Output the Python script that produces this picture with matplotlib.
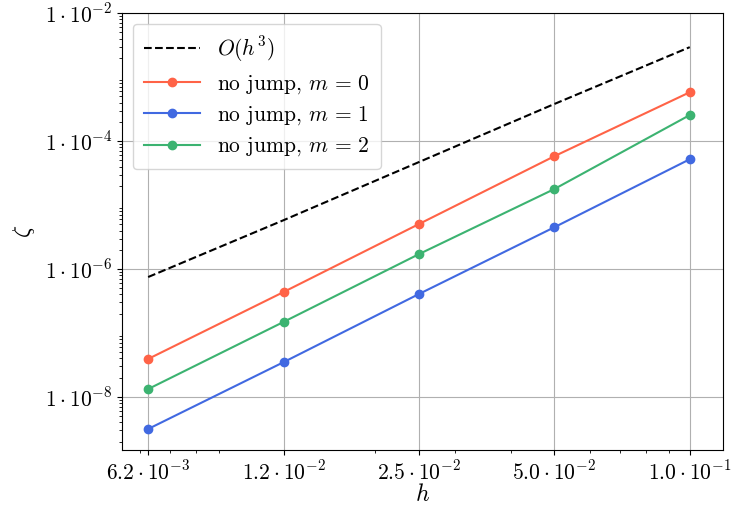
import numpy as np
import matplotlib
matplotlib.use("Agg")
import matplotlib.pyplot as plt

plt.rcParams["font.family"] = "serif"
plt.rcParams["font.serif"] = ["cmr10"]
plt.rcParams["mathtext.fontset"] = "cm"
plt.rcParams["axes.unicode_minus"] = False
plt.rcParams["axes.formatter.use_mathtext"] = True

# Schrittweiten und Fehler
h = [6.25e-3, 1.25e-2, 2.5e-2, 5e-2, 1e-1]
ref_h3 = [7.5e-7, 5.8e-6, 4.7e-5, 3.8e-4, 2.94e-3]
zeta_m0 = [3.93e-8, 4.37e-7, 5.05e-6, 5.8e-5, 5.8e-4]
zeta_m1 = [3.16e-9, 3.5e-8, 4.07e-7, 4.5e-6, 5.2e-5]
zeta_m2 = [1.33e-8, 1.49e-7, 1.71e-6, 1.78e-5, 2.55e-4]

xtick_labels = [r"$6.2\cdot10^{-3}$", r"$1.2\cdot10^{-2}$", r"$2.5\cdot10^{-2}$",
                r"$5.0\cdot10^{-2}$", r"$1.0\cdot10^{-1}$"]
yticks = [1e-8, 1e-6, 1e-4, 1e-2]
ytick_labels = [r"$1\cdot10^{-8}$", r"$1\cdot10^{-6}$", r"$1\cdot10^{-4}$", r"$1\cdot10^{-2}$"]

fig = plt.figure(figsize=(7.36, 5.05), dpi=100)
ax = fig.add_axes([0.166, 0.109, 0.816, 0.865])

ax.loglog(h, ref_h3, "k--", lw=1.5, label=r"$O(h^3)$")
ax.loglog(h, zeta_m0, "-o", color="tomato", lw=1.5, ms=6, label=r"no jump, $m\,=\,0$")
ax.loglog(h, zeta_m1, "-o", color="royalblue", lw=1.5, ms=6, label=r"no jump, $m\,=\,1$")
ax.loglog(h, zeta_m2, "-o", color="mediumseagreen", lw=1.5, ms=6, label=r"no jump, $m\,=\,2$")

ax.set_xlim(6.25e-3 * 2 ** (-26 / 135.5), 0.1 * 2 ** (33 / 135.5))
ax.set_ylim(1e-8 * 10 ** (-53 / 64), 1e-2)
ax.set_xticks(h)
ax.set_xticklabels(xtick_labels)
ax.set_yticks(yticks)
ax.set_yticklabels(ytick_labels)
ax.tick_params(labelsize=15.5)
ax.grid(True, which="major", color="#b0b0b0", lw=0.8)
ax.set_xlabel(r"$h$", fontsize=17, labelpad=0)
ax.set_ylabel(r"$\zeta$", fontsize=17, labelpad=6)
ax.legend(loc="upper left", fontsize=15.5, handlelength=2.6, labelspacing=0.4,
          borderpad=0.5)

fig.savefig("out.png", dpi=100)
